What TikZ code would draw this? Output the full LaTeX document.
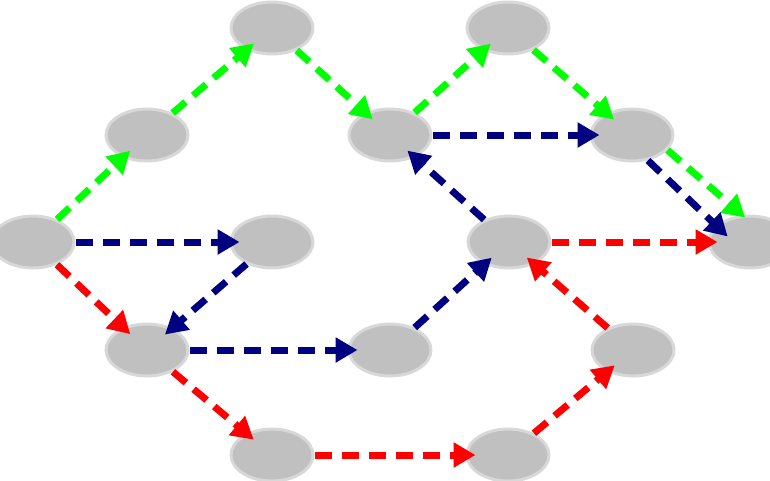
\documentclass[tikz,border=0pt]{standalone}
\usetikzlibrary{shapes.geometric,arrows.meta}
\definecolor{nodefill}{HTML}{C0C0C0}
\definecolor{nodeborder}{HTML}{D8D8D8}
\definecolor{agreen}{HTML}{00FF00}
\definecolor{ablue}{HTML}{000080}
\definecolor{ared}{HTML}{FF0000}
\tikzset{
  nd/.style={ellipse, fill=nodefill, draw=nodeborder, line width=3pt,
    minimum width=82pt, minimum height=52pt, inner sep=0pt},
  ar/.style={line width=7pt, dash pattern=on 17pt off 10pt,
    -{Triangle[length=22pt,width=24pt]}, shorten >=-10pt},
  gar/.style={ar, draw=agreen},
  bar/.style={ar, draw=ablue},
  rar/.style={ar, draw=ared},
}
\begin{document}
\begin{tikzpicture}[x=1pt,y=-1pt]
\useasboundingbox (0,0) rectangle (770,480);
\clip (0,0) rectangle (770,480);
\node[nd] (A) at (33,242) {};
\node[nd] (B) at (147,135) {};
\node[nd] (C) at (272,28) {};
\node[nd] (D) at (272,242) {};
\node[nd] (E) at (147,350) {};
\node[nd] (F) at (272,455) {};
\node[nd] (G) at (390,135) {};
\node[nd] (H) at (390,350) {};
\node[nd] (I) at (508,28) {};
\node[nd] (J) at (509,242) {};
\node[nd] (K) at (508,455) {};
\node[nd] (L) at (632,135) {};
\node[nd] (M) at (633,350) {};
\node[nd] (N) at (750,242) {};
% green
\draw[gar] (A) -- (B);
\draw[gar] (B) -- (C);
\draw[gar] (C) -- (G);
\draw[gar] (G) -- (I);
\draw[gar] (I) -- (L);
\draw[gar, shorten >=-4pt] (L.-23) -- (N.106);
% blue
\draw[bar] (A) -- (D);
\draw[bar] (D) -- (E);
\draw[bar] (E) -- (H);
\draw[bar] (H) -- (J);
\draw[bar] (J) -- (G);
\draw[bar] (G) -- (L);
\draw[bar, shorten >=-16pt] (L.-58) -- (N.154);
% red
\draw[rar] (A) -- (E);
\draw[rar] (E) -- (F);
\draw[rar] (F) -- (K);
\draw[rar] (K) -- (M);
\draw[rar] (M) -- (J);
\draw[rar] (J) -- (N);
\end{tikzpicture}
\end{document}
